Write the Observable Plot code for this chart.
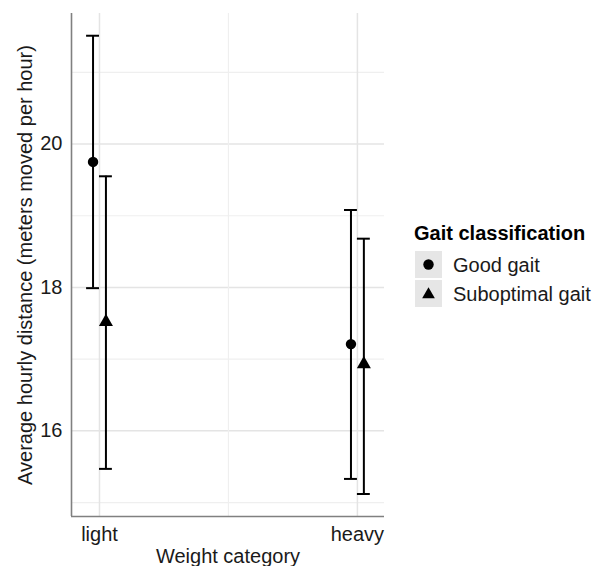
<!DOCTYPE html>
<html>
<head>
<meta charset="utf-8">
<script src="https://cdn.jsdelivr.net/npm/d3@7"></script>
<script src="https://cdn.jsdelivr.net/npm/@observablehq/plot@0.6"></script>
<style>
  body { margin: 0; background: white; }
  #wrap { position: relative; width: 606px; height: 566px; overflow: hidden; font-family: "Liberation Sans", Arial, sans-serif; }
  #legend { position: absolute; left: 0; top: 0; }
</style>
</head>
<body>
<div id="wrap"></div>
<script>
// ---- data ----
const categories = ["light", "heavy"];
const groups = ["Good gait", "Suboptimal gait"];
const weight = ["light", "light", "heavy", "heavy"];
const gait = ["Good gait", "Suboptimal gait", "Good gait", "Suboptimal gait"];
const meanDist = [19.75, 17.52, 17.21, 16.93];
const lowerCI = [17.99, 15.47, 15.33, 15.12];
const upperCI = [21.51, 19.55, 19.08, 18.68];
const yTicks = [16, 18, 20];
const yMinor = [15, 17, 19, 21];

// ---- layout helpers ----
const dodgeWidth = 0.1;
const capHalf = 0.025;
const xDomain = [-0.1085, 1.105];
const yDomain = [14.806, 21.82];

const rows = weight.map((w, i) => {
  const idx = categories.indexOf(w);
  const g = groups.indexOf(gait[i]);
  return {
    weight: w, gait: gait[i], mean: meanDist[i], lower: lowerCI[i], upper: upperCI[i],
    xd: idx + (g === 0 ? -dodgeWidth / 4 : dodgeWidth / 4)
  };
});

const font = '"Liberation Sans", Arial, sans-serif';

const chart = Plot.plot({
  width: 395,
  height: 566,
  marginLeft: 71,
  marginRight: 11,
  marginTop: 13,
  marginBottom: 50,
  style: { fontFamily: font, fontSize: "20px", color: "#1a1a1a", background: "white", overflow: "visible" },
  x: { type: "linear", domain: xDomain },
  y: { domain: yDomain },
  symbol: { domain: groups, range: ["circle", "triangle"] },
  marks: [
    Plot.gridY(yMinor, { stroke: "#efefef", strokeOpacity: 1, strokeWidth: 1.2 }),
    Plot.gridY(yTicks, { stroke: "#e4e4e4", strokeOpacity: 1, strokeWidth: 1.5 }),
    Plot.gridX([0.5], { stroke: "#efefef", strokeOpacity: 1, strokeWidth: 1.2 }),
    Plot.gridX([0, 1], { stroke: "#e4e4e4", strokeOpacity: 1, strokeWidth: 1.5 }),
    Plot.ruleX([xDomain[0]], { stroke: "#808080", strokeWidth: 1.6 }),
    Plot.ruleY([yDomain[0]], { stroke: "#808080", strokeWidth: 1.6 }),
    Plot.ruleX(rows, { x: "xd", y1: "lower", y2: "upper", stroke: "black", strokeWidth: 2 }),
    Plot.ruleY(rows, { y: "upper", x1: d => d.xd - capHalf, x2: d => d.xd + capHalf, stroke: "black", strokeWidth: 2 }),
    Plot.ruleY(rows, { y: "lower", x1: d => d.xd - capHalf, x2: d => d.xd + capHalf, stroke: "black", strokeWidth: 2 }),
    Plot.dot(rows, { x: "xd", y: "mean", symbol: "gait", fill: "black", stroke: "none", r: 5.2 }),
    Plot.axisX([0, 1], {
      tickFormat: i => categories[i], tickSize: 0, tickPadding: 10,
      label: "Weight category", labelAnchor: "center", labelArrow: "none", labelOffset: 46,
      fill: "#1a1a1a", fontSize: 20
    }),
    Plot.axisY(yTicks, {
      tickFormat: d => String(d), tickSize: 0, tickPadding: 9,
      label: "Average hourly distance (meters moved per hour)", labelAnchor: "center", labelArrow: "none", labelOffset: 54,
      fill: "#1a1a1a", fontSize: 20
    })
  ]
});

const wrap = document.getElementById("wrap");
wrap.appendChild(chart);

// ---- legend ----
const legend = d3.select(wrap).append("svg")
  .attr("id", "legend")
  .attr("width", 606).attr("height", 566)
  .style("font-family", font);

legend.append("text")
  .attr("x", 414).attr("y", 240)
  .attr("font-size", 20).attr("font-weight", "bold").attr("fill", "black")
  .text("Gait classification");

const symbolGen = { "Good gait": d3.symbolCircle, "Suboptimal gait": d3.symbolTriangle };
groups.forEach((g, i) => {
  const y0 = 251 + i * 29;
  legend.append("rect").attr("x", 415).attr("y", y0).attr("width", 27).attr("height", 27).attr("fill", "#e6e6e6");
  const area = i === 0 ? Math.PI * 5.2 * 5.2 : 70;
  legend.append("path")
    .attr("transform", `translate(428.5,${y0 + 13.5 + (i === 1 ? 1 : 0)})`)
    .attr("d", d3.symbol(symbolGen[g], area)())
    .attr("fill", "black");
  legend.append("text")
    .attr("x", 453).attr("y", y0 + 13.5).attr("dy", "0.35em")
    .attr("font-size", 20).attr("fill", "#1a1a1a")
    .text(g);
});
</script>
</body>
</html>
